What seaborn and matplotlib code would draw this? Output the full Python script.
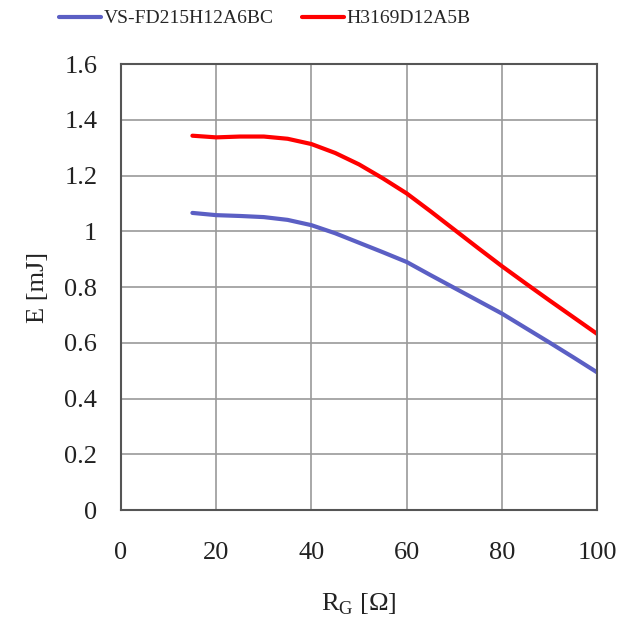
import matplotlib
matplotlib.use("Agg")
import matplotlib.pyplot as plt
import seaborn as sns
import pandas as pd

rg = [15, 20, 25, 30, 35, 40, 45, 50, 55, 60, 65, 70, 75, 80, 85, 90, 95, 100]
e_vs = [1.066, 1.058, 1.055, 1.051, 1.041, 1.022, 0.993, 0.959, 0.925, 0.890,
        0.843, 0.797, 0.751, 0.705, 0.653, 0.601, 0.548, 0.494]
e_h = [1.343, 1.337, 1.340, 1.340, 1.332, 1.313, 1.281, 1.240, 1.190, 1.136,
       1.072, 1.006, 0.940, 0.875, 0.813, 0.752, 0.692, 0.632]
series = ["VS-FD215H12A6BC", "H3169D12A5B"]
colors = ["#5B5FC4", "#FF0000"]

df = pd.DataFrame({
    "RG": rg + rg,
    "E": e_vs + e_h,
    "Device": [series[0]] * len(rg) + [series[1]] * len(rg),
})

sns.set_style("white")
plt.rcParams["font.family"] = ["Liberation Serif", "DejaVu Serif"]
plt.rcParams["mathtext.fontset"] = "custom"
plt.rcParams["mathtext.rm"] = "Liberation Serif"

fig = plt.figure(figsize=(6.22, 6.19), dpi=100)
ax = fig.add_axes([0.1945, 0.176, 0.7655, 0.7205])

sns.lineplot(data=df, x="RG", y="E", hue="Device", palette=colors,
             linewidth=3, ax=ax, legend=True)
for ln in ax.get_lines():
    ln.set_solid_joinstyle("round")
    ln.set_solid_capstyle("round")

ax.set_xlim(0, 100)
ax.set_ylim(0, 1.6)
ax.set_xticks([0, 20, 40, 60, 80, 100])
ax.set_yticks([0, 0.2, 0.4, 0.6, 0.8, 1.0, 1.2, 1.4, 1.6])
ax.set_yticklabels(["0", "0.2", "0.4", "0.6", "0.8", "1", "1.2", "1.4", "1.6"])
ax.grid(True, color="#9a9a9a", linewidth=1.2)
for s in ax.spines.values():
    s.set_color("#555555")
    s.set_linewidth(1.5)
ax.tick_params(axis="y", direction="out", length=8, width=1.3, color="#444444",
               labelsize=19, pad=9, labelcolor="#222222")
ax.tick_params(axis="x", direction="inout", length=10, width=1.3, color="#444444",
               labelsize=19, pad=18, labelcolor="#222222")

ax.set_xlabel(r"R$_\mathrm{G}$ [Ω]", fontsize=19, labelpad=20, color="#222222")
ax.set_ylabel("E [mJ]", fontsize=19, labelpad=11, color="#222222")

handles, labels = ax.get_legend_handles_labels()
ax.legend(handles, labels, loc="center", bbox_to_anchor=(0.426, 0.97),
          bbox_transform=fig.transFigure, ncol=2, frameon=False, fontsize=14,
          handlelength=2.15, handletextpad=0.15, columnspacing=1.45)

fig.savefig("out.png", dpi=100, facecolor="white")
